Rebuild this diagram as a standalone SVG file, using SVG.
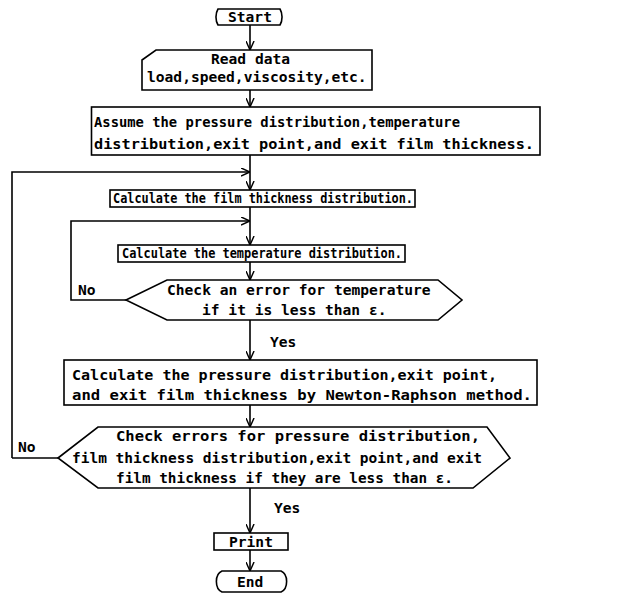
<svg xmlns="http://www.w3.org/2000/svg" width="644" height="596" viewBox="0 0 644 596">
<style>
.s{fill:#fff;stroke:#000;stroke-width:1.6}
.c{fill:none;stroke:#000;stroke-width:1.6}
text{font-family:"DejaVu Sans Mono","Liberation Mono",monospace;font-size:14.6px;font-weight:bold;fill:#000}
</style>
<defs>
<marker id="a" markerUnits="userSpaceOnUse" viewBox="0 0 10 10" refX="10" refY="5" markerWidth="9" markerHeight="9" orient="auto">
<path d="M0,0.5 L10,5 L0,9.5" fill="none" stroke="#000" stroke-width="1.6"/>
</marker>
</defs>
<rect width="644" height="596" fill="#fff"/>
<g id="connectors">
<path class="c" d="M250,25 V50" marker-end="url(#a)"/>
<path class="c" d="M250,90 V107" marker-end="url(#a)"/>
<path class="c" d="M250,155 V190" marker-end="url(#a)"/>
<path class="c" d="M12,458 V172 H250" marker-end="url(#a)"/>
<path class="c" d="M250,207 V245" marker-end="url(#a)"/>
<path class="c" d="M126,300 H71 V221 H250" marker-end="url(#a)"/>
<path class="c" d="M250,262 V280" marker-end="url(#a)"/>
<path class="c" d="M250,320 V360" marker-end="url(#a)"/>
<path class="c" d="M250,405 V427" marker-end="url(#a)"/>
<path class="c" d="M58,458 H12"/>
<path class="c" d="M250,488 V533" marker-end="url(#a)"/>
<path class="c" d="M250,550 V571" marker-end="url(#a)"/>
<text x="78" y="295">No</text>
<text x="270" y="347">Yes</text>
<text x="18" y="452">No</text>
<text x="274" y="513">Yes</text>
</g>
<g id="start">
<path class="s" d="M218,9 H280 A8 12 0 0 1 280,25 H218 A8 12 0 0 1 218,9 Z"/>
<text x="228" y="22">Start</text>
</g>
<g id="read">
<path class="s" d="M142,60 L156,50 H372 V90 H142 Z"/>
<text x="211" y="64">Read data</text>
<text x="147" y="82">load,speed,viscosity,etc.</text>
</g>
<g id="assume">
<rect class="s" x="91.5" y="107" width="448.5" height="48"/>
<text x="94" y="127" textLength="366" lengthAdjust="spacingAndGlyphs">Assume the pressure distribution,temperature</text>
<text x="94" y="149" textLength="440" lengthAdjust="spacingAndGlyphs">distribution,exit point,and exit film thickness.</text>
</g>
<g id="calc-film">
<rect class="s" x="110" y="190" width="305" height="17"/>
<text x="113" y="203" textLength="300" lengthAdjust="spacingAndGlyphs">Calculate the film thickness distribution.</text>
</g>
<g id="calc-temp">
<rect class="s" x="118" y="245" width="287" height="17"/>
<text x="122" y="258" textLength="280" lengthAdjust="spacingAndGlyphs">Calculate the temperature distribution.</text>
</g>
<g id="check-temp">
<path class="s" d="M126,300 L167,280 H438 L462,300 L438,320 H167 Z"/>
<text x="167" y="295">Check an error for temperature</text>
<text x="202" y="315">if it is less than ε.</text>
</g>
<g id="newton">
<rect class="s" x="64" y="360" width="473" height="45"/>
<text x="72" y="380" textLength="425" lengthAdjust="spacingAndGlyphs">Calculate the pressure distribution,exit point,</text>
<text x="72" y="400" textLength="460" lengthAdjust="spacingAndGlyphs">and exit film thickness by Newton-Raphson method.</text>
</g>
<g id="check-all">
<path class="s" d="M58,458 L98,427 H487 L510,458 L473,488 H98 Z"/>
<text x="116" y="441" textLength="364" lengthAdjust="spacingAndGlyphs">Check errors for pressure distribution,</text>
<text x="72" y="463" textLength="410" lengthAdjust="spacingAndGlyphs">film thickness distribution,exit point,and exit</text>
<text x="116" y="483" textLength="337" lengthAdjust="spacingAndGlyphs">film thickness if they are less than ε.</text>
</g>
<g id="print">
<rect class="s" x="214" y="533" width="74" height="17"/>
<text x="229" y="547">Print</text>
</g>
<g id="end">
<path class="s" d="M222,571 H281 A8 11 0 0 1 281,592 H222 A8 11 0 0 1 222,571 Z"/>
<text x="237" y="587">End</text>
</g>
</svg>
